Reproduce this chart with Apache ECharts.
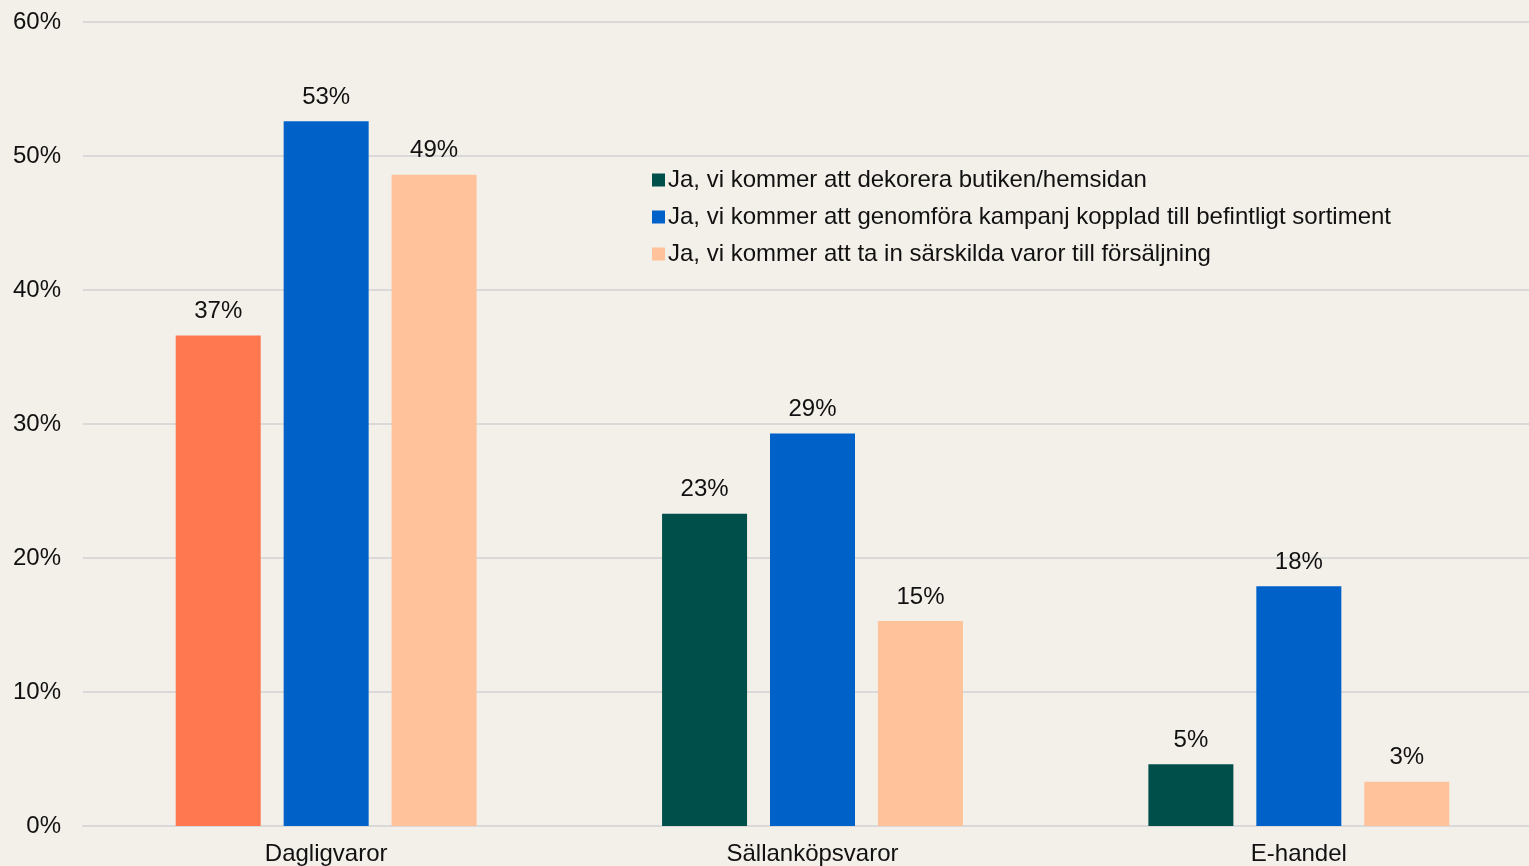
<!DOCTYPE html>
<html><head><meta charset="utf-8">
<script src="https://cdn.jsdelivr.net/npm/echarts@6/dist/echarts.min.js"></script>
<style>html,body{margin:0;padding:0;background:#F3EFE9;overflow:hidden;width:1529px;height:866px;}#c{width:1542px;height:866px;}</style>
</head><body><div id="c"></div>
<script>
const categories = ['Dagligvaror', 'Sällanköpsvaror', 'E-handel'];
const seriesNames = [
  'Ja, vi kommer att dekorera butiken/hemsidan',
  'Ja, vi kommer att genomföra kampanj kopplad till befintligt sortiment',
  'Ja, vi kommer att ta in särskilda varor till försäljning'
];
const decorera = [36.6, 23.3, 4.6];
const kampanj = [52.6, 29.3, 17.9];
const sarskilda = [48.6, 15.3, 3.3];
const yTicks = [0, 10, 20, 30, 40, 50, 60];

const colors = ['#004F4A', '#0062C8', '#FFC29B'];
const highlightColor = '#FF7850';
const font = 'Liberation Sans, Arial, sans-serif';

const label = {show: true, position: 'top', distance: 12, color: '#111', fontSize: 24, fontFamily: font,
  formatter: p => Math.round(p.value) + '%'};

const chart = echarts.init(document.getElementById('c'));
chart.setOption({
  backgroundColor: '#F3EFE9',
  animation: false,
  grid: {left: 83, top: 22, right: 0, bottom: 40, containLabel: false},
  legend: {
    orient: 'vertical', left: 647, top: 163, itemWidth: 13, itemHeight: 13, itemGap: 13,
    icon: 'rect',
    textStyle: {fontSize: 24, color: '#111', fontFamily: font, padding: [0, 0, 0, -2]},
    data: seriesNames
  },
  xAxis: {
    type: 'category', data: categories,
    axisLine: {lineStyle: {color: '#D9D9D9', width: 2}},
    axisTick: {show: false},
    axisLabel: {fontSize: 24, color: '#111', fontFamily: font, margin: 16}
  },
  yAxis: {
    type: 'value', min: 0, max: 60, interval: 10,
    axisLabel: {fontSize: 24, color: '#111', fontFamily: font, formatter: v => v + '%', margin: 22},
    splitLine: {lineStyle: {color: '#D9D9D9', width: 2}},
    axisLine: {show: false}, axisTick: {show: false}
  },
  series: [
    {name: seriesNames[0], type: 'bar', barWidth: 85, barGap: '27%', itemStyle: {color: colors[0]},
     data: decorera.map((v, i) => i === 0 ? {value: v, itemStyle: {color: highlightColor}} : v), label},
    {name: seriesNames[1], type: 'bar', barWidth: 85, barGap: '27%', itemStyle: {color: colors[1]}, data: kampanj, label},
    {name: seriesNames[2], type: 'bar', barWidth: 85, barGap: '27%', itemStyle: {color: colors[2]}, data: sarskilda, label}
  ]
});
</script></body></html>
